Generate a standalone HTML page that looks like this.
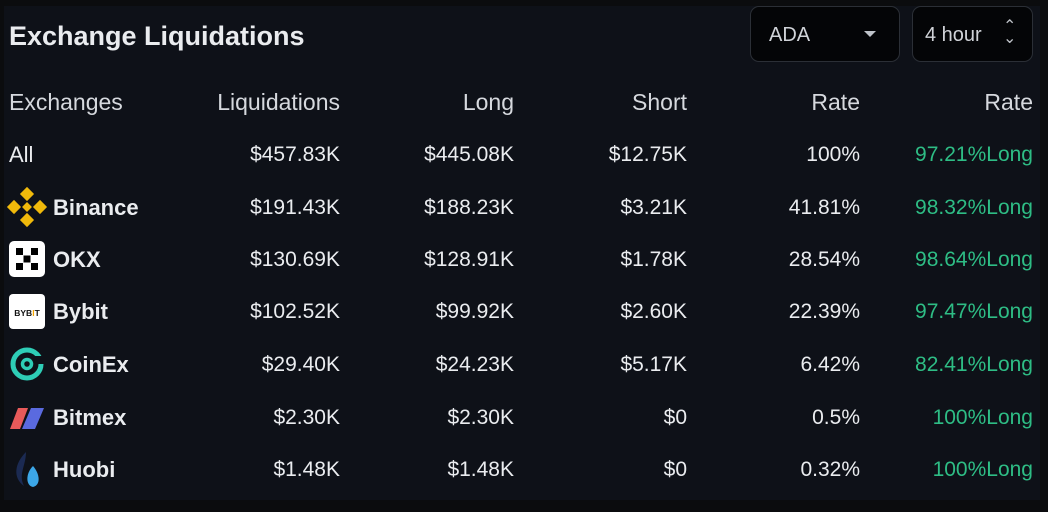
<!DOCTYPE html>
<html><head><style>
html,body{margin:0;padding:0;width:1048px;height:512px;background:#0b0c0e;overflow:hidden;font-family:"Liberation Sans",sans-serif;}
#p{position:absolute;left:4px;top:6px;width:1036px;height:494px;background:#0e1118;}
.t{position:absolute;color:#eaecef;font-size:21px;white-space:nowrap;line-height:24px;}
.r{text-align:right;}
.g{color:#2ebd85;}
.b{font-weight:bold;font-size:22px;}
.h{font-size:23px;color:#d6d9de;}
.dd{position:absolute;top:6px;height:56px;background:#040507;border:1px solid #2b2f36;border-radius:9px;box-sizing:border-box;}
</style></head><body>
<div id="p"></div>
<div class="t" style="left:9px;top:22px;font-size:27px;line-height:28px;font-weight:bold">Exchange Liquidations</div>
<div class="dd" style="left:750px;width:150px;"></div>
<div class="t" style="left:769px;top:23px;font-size:20px;color:#d0d3d8">ADA</div>
<div style="position:absolute;left:864px;top:31px;width:0;height:0;border-left:6px solid transparent;border-right:6px solid transparent;border-top:6px solid #bfc3c9"></div>
<div class="dd" style="left:912px;width:121px;"></div>
<div class="t" style="left:925px;top:23px;font-size:20px;color:#d0d3d8">4 hour</div>
<div class="t" style="left:1003px;top:21px;font-size:16px;color:#bfc3c9;line-height:12px">&#8963;<br>&#8964;</div>

<div id="rows"></div>
<script>
const cols=[340,514,687,860,1033];
const rows=[
["Exchanges","Liquidations","Long","Short","Rate","Rate",90],
["All","$457.83K","$445.08K","$12.75K","100%","97.21%Long",143],
["Binance","$191.43K","$188.23K","$3.21K","41.81%","98.32%Long",196],
["OKX","$130.69K","$128.91K","$1.78K","28.54%","98.64%Long",248],
["Bybit","$102.52K","$99.92K","$2.60K","22.39%","97.47%Long",300],
["CoinEx","$29.40K","$24.23K","$5.17K","6.42%","82.41%Long",353],
["Bitmex","$2.30K","$2.30K","$0","0.5%","100%Long",406],
["Huobi","$1.48K","$1.48K","$0","0.32%","100%Long",458]];
let h="";
rows.forEach((r,i)=>{
 const y=r[6];
 const icon=i>=2;
 h+=`<div class="t ${icon?'b':''} ${i==0?'h':''}" style="left:${icon?53:9}px;top:${y}px;${i==1?'font-size:22px':''}">${r[0]}</div>`;
 for(let c=1;c<=5;c++){
  h+=`<div class="t r ${c==5&&i>0?'g':''} ${i==0?'h':''}" style="right:${1048-cols[c-1]}px;top:${y}px;">${r[c]}</div>`;
 }
});
document.getElementById('rows').innerHTML=h;
</script>
<svg style="position:absolute;left:0;top:0" width="60" height="512">
 <g fill="#f0b90b" transform="translate(27,207)">
  <rect x="-5" y="-18" width="10" height="10" transform="rotate(45 0 -13)"/>
  <rect x="-5" y="8" width="10" height="10" transform="rotate(45 0 13)"/>
  <rect x="-18" y="-5" width="10" height="10" transform="rotate(45 -13 0)"/>
  <rect x="8" y="-5" width="10" height="10" transform="rotate(45 13 0)"/>
  <rect x="-3.5" y="-3.5" width="7" height="7" transform="rotate(45 0 0)"/>
 </g>
 <rect x="9" y="241" width="36" height="36" rx="5" fill="#fff"/>
 <g fill="#000"><rect x="16" y="248" width="7" height="7"/><rect x="31" y="248" width="7" height="7"/><rect x="23.5" y="255.5" width="7" height="7"/><rect x="16" y="263" width="7" height="7"/><rect x="31" y="263" width="7" height="7"/></g>
 <rect x="9" y="294" width="36" height="35" rx="4" fill="#fff"/>
 <text x="27" y="316" font-size="8.5" font-weight="bold" text-anchor="middle" font-family="Liberation Sans" fill="#111">BYB<tspan fill="#f7a600">I</tspan>T</text>
 <circle cx="27" cy="364" r="14" fill="none" stroke="#2ecdb6" stroke-width="5"/>
 <rect x="30" y="356" width="14" height="8" fill="#0e1118"/>
 <circle cx="27" cy="364" r="4.5" fill="none" stroke="#2ecdb6" stroke-width="3.5"/>
 <polygon points="10,429 18,408 28,408 20,429" fill="#e85a5a"/>
 <polygon points="22,429 31,408 44,408 35,429" fill="#5a6adf"/>
 <path d="M26,452 C14,464 13,478 24,486 C18,474 26,466 26,452Z" fill="#1b2a52"/>
 <path d="M33,466 C25,474 26,486 33,487 C41,485 40,474 33,466Z" fill="#3ca7e8"/>
</svg>
</body></html>
